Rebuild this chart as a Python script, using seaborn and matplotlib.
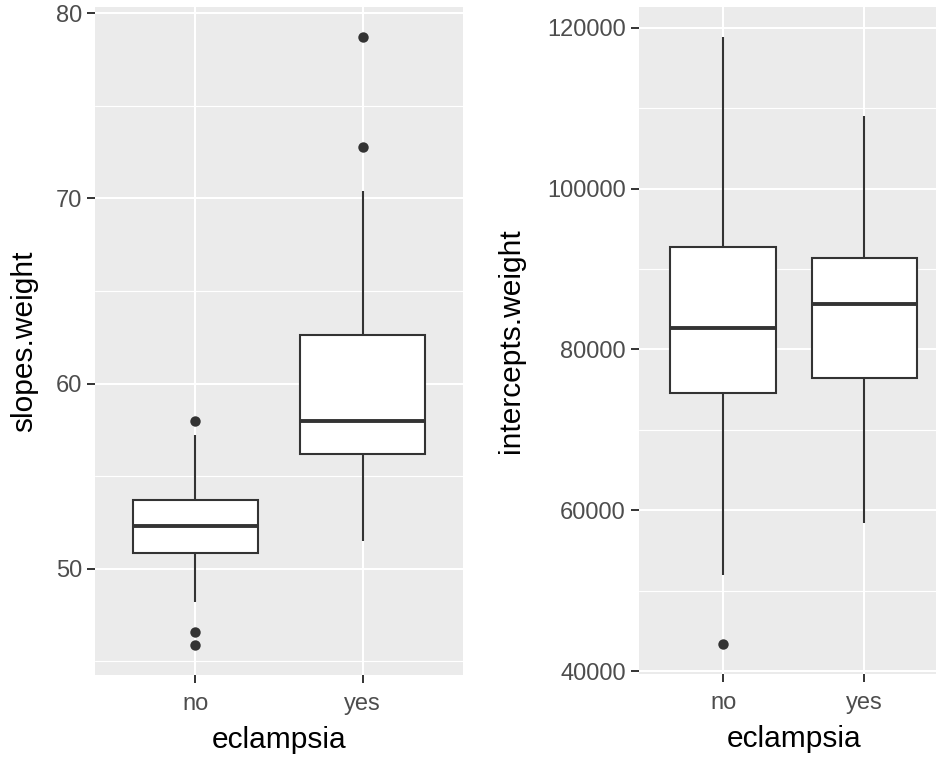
import numpy as np
import pandas as pd
import matplotlib
matplotlib.use("Agg")
import matplotlib.pyplot as plt
from matplotlib.ticker import MultipleLocator
import seaborn as sns

groups = ["no", "yes"]

# slopes.weight: box summaries per eclampsia group
slope_whisker_low = [48.2, 51.5]
slope_q1 = [50.86, 56.2]
slope_median = [52.3, 58.0]
slope_q3 = [53.7, 62.65]
slope_whisker_high = [57.2, 70.4]
slope_outlier_group = ["no", "no", "no", "yes", "yes"]
slope_outlier_value = [58.0, 46.6, 45.9, 78.7, 72.8]

# intercepts.weight: box summaries per eclampsia group
intercept_whisker_low = [52000, 58400]
intercept_q1 = [74600, 76400]
intercept_median = [82700, 85600]
intercept_q3 = [92700, 91400]
intercept_whisker_high = [118800, 109000]
intercept_outlier_group = ["no"]
intercept_outlier_value = [43400]

sns.set_theme(style="darkgrid")
plt.rcParams["font.family"] = ["Liberation Sans", "DejaVu Sans"]

BG = "#EBEBEB"
DARK = "#333333"
TICKTXT = "#4D4D4D"


def summary_frame(lo, q1, med, q3, hi):
    rows = []
    for i, g in enumerate(groups):
        for v in (lo[i], q1[i], med[i], q3[i], hi[i]):
            rows.append({"eclampsia": g, "value": v})
    return pd.DataFrame(rows)


def panel(ax, box_df, out_group, out_value, ylabel, major, labelpad):
    sns.boxplot(data=box_df, x="eclampsia", y="value", order=groups, ax=ax,
                color="white", linecolor=DARK, linewidth=1.5, width=0.75,
                whis=(0, 100), fliersize=0, saturation=1,
                medianprops={"linewidth": 2.8, "color": DARK},
                capprops={"visible": False})
    out_df = pd.DataFrame({"eclampsia": out_group, "value": out_value})
    sns.stripplot(data=out_df, x="eclampsia", y="value", order=groups, ax=ax,
                  jitter=False, color=DARK, size=7.5, linewidth=0, zorder=5)
    allv = list(box_df["value"]) + list(out_value)
    lo, hi = min(allv), max(allv)
    pad = 0.05 * (hi - lo)
    ax.set_ylim(lo - pad, hi + pad)
    ax.set_xlim(-0.6, 1.6)
    ax.set_facecolor(BG)
    ax.yaxis.set_major_locator(MultipleLocator(major))
    ax.yaxis.set_minor_locator(MultipleLocator(major / 2))
    ax.grid(which="major", color="white", linewidth=1.5)
    ax.grid(which="minor", axis="y", color="white", linewidth=0.8)
    ax.grid(which="minor", axis="x", visible=False)
    ax.set_axisbelow(True)
    for s in ax.spines.values():
        s.set_visible(False)
    ax.tick_params(axis="both", which="major", length=5.8, width=1.4,
                   color=DARK, labelcolor=TICKTXT, labelsize=17, pad=3.5,
                   left=True, bottom=True)
    ax.tick_params(axis="x", which="major", pad=7)
    ax.tick_params(axis="both", which="minor", length=0)
    ax.set_xlabel("eclampsia", fontsize=21.5, color="black", labelpad=8)
    ax.set_ylabel(ylabel, fontsize=21.5, color="black", labelpad=labelpad)


fig = plt.figure(figsize=(9.37, 7.61), dpi=100)
W, H = 937, 761
ax1 = fig.add_axes([95 / W, 1 - 675 / H, 368 / W, 668 / H])
ax2 = fig.add_axes([638.6 / W, 1 - 674 / H, 310.6 / W, 667 / H])

panel(ax1,
      summary_frame(slope_whisker_low, slope_q1, slope_median, slope_q3,
                    slope_whisker_high),
      slope_outlier_group, slope_outlier_value, "slopes.weight", 10, 13)
panel(ax2,
      summary_frame(intercept_whisker_low, intercept_q1, intercept_median,
                    intercept_q3, intercept_whisker_high),
      intercept_outlier_group, intercept_outlier_value, "intercepts.weight",
      20000, 16)

fig.savefig("out.png", dpi=100, facecolor="white")
